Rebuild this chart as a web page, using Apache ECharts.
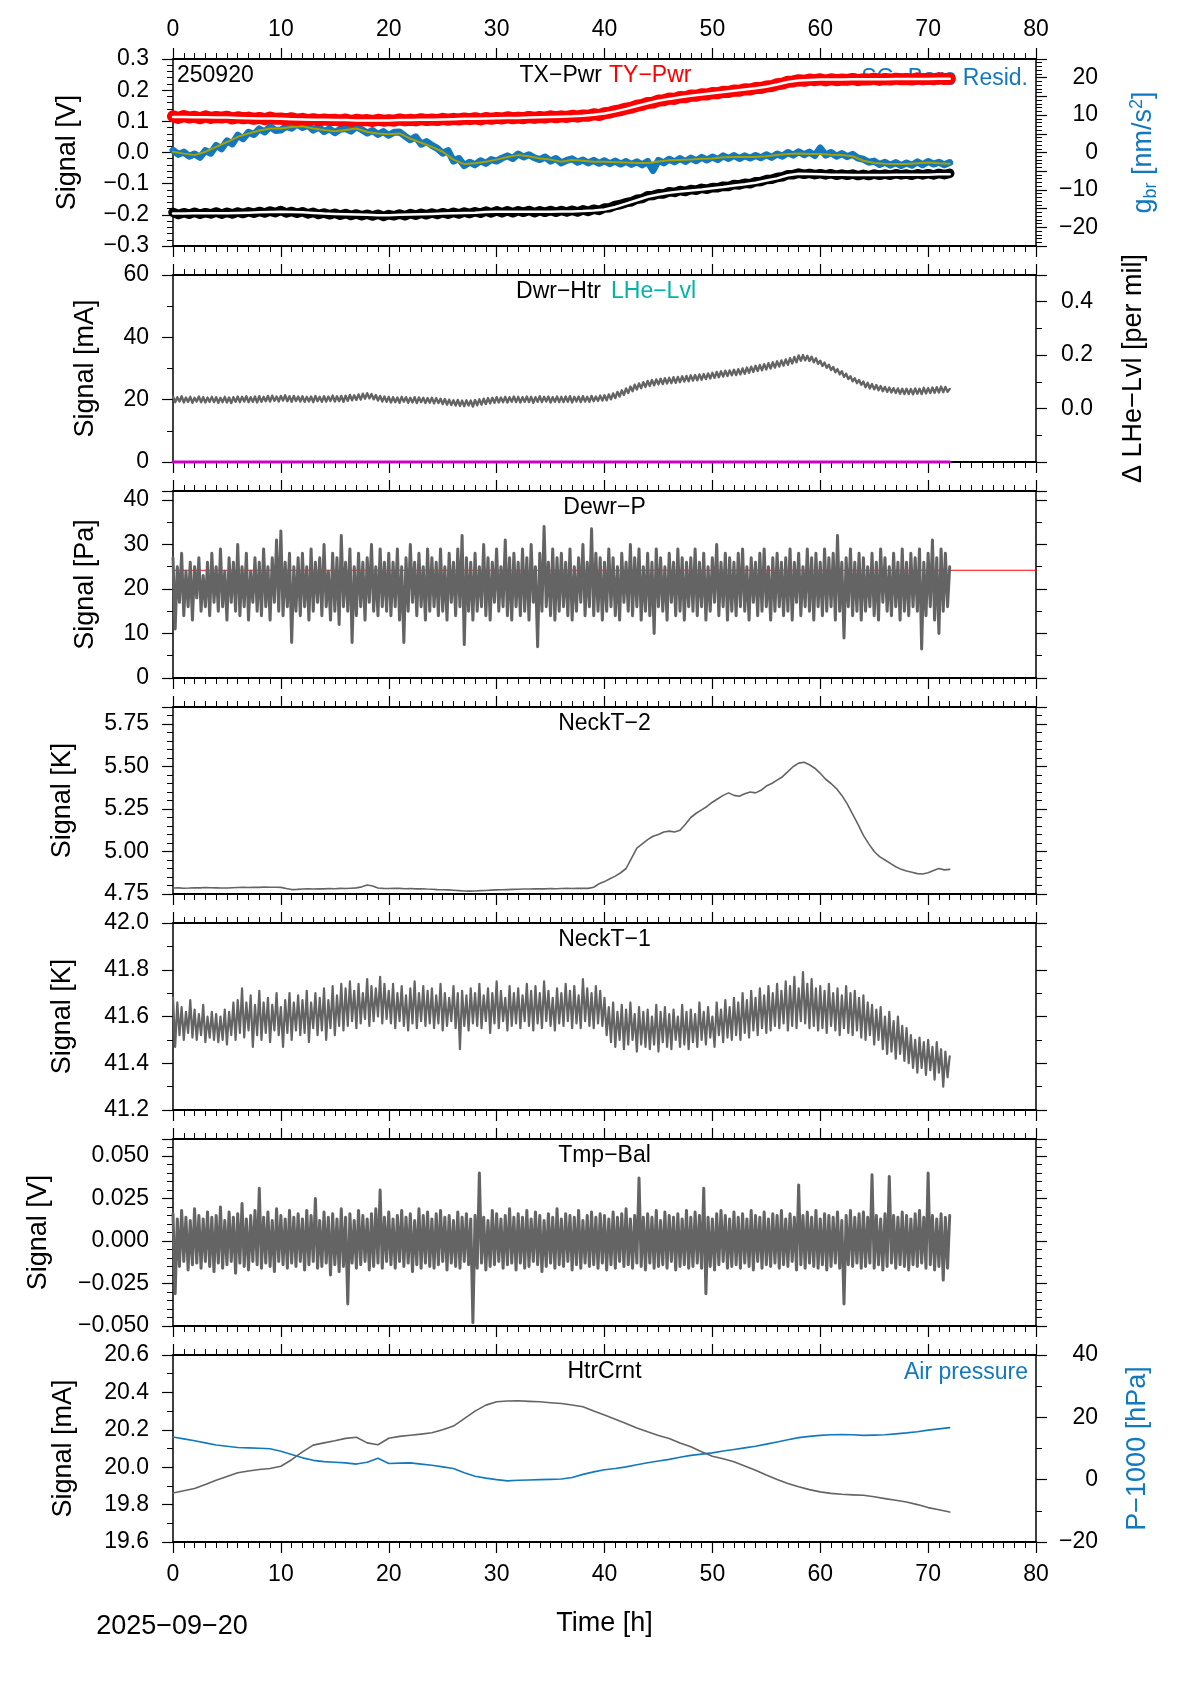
<!DOCTYPE html>
<html><head><meta charset="utf-8">
<script src="https://cdn.jsdelivr.net/npm/echarts@6/dist/echarts.min.js"></script>
<style>html,body{margin:0;padding:0;background:#fff}#c{width:1190px;height:1684px}</style>
</head><body><div id="c"></div>
<script>
// ---------------- DATA (time in hours) ----------------
const xTickLabels = [0,10,20,30,40,50,60,70,80];

// Panel 1 : TX-Pwr / TY-Pwr [V], SG-Baro residual [nm/s^2]  (raw every 0.5 h, smoothed every 1 h)
const tyRaw = [.116,.111,.117,.112,.115,
 .110,.116,.111,.114, .112,.115,.109,.113, .110,.112,.108,.111, .107,.112,.108,.109,
 .106,.110,.105,.108, .104,.107,.103,.106, .104,.105,.102,.106, .101,.105,.103,.104,
 .101,.105,.102,.104, .102,.106,.103,.105, .103,.107,.104,.106, .104,.108,.105,.108,
 .106,.109,.107,.110, .106,.111,.108,.111, .109,.113,.110,.112, .110,.114,.111,.114,
 .112,.116,.113,.116, .114,.118,.115,.119, .118,.123,.120,.126, .128,.133,.136,.141,
 .144,.150,.153,.159, .160,.167,.168,.173, .172,.178,.177,.183, .182,.187,.186,.191,
 .190,.195,.194,.199, .198,.203,.202,.207, .207,.212,.213,.219, .221,.227,.228,.232,
 .230,.234,.232,.235, .231,.235,.232,.234, .233,.236,.232,.235, .234,.237,.233,.236,
 .234,.237,.235,.236, .234,.238,.235,.237, .235,.238,.236,.237];
const tySmooth = [.114,.114,.113,.113,.112,.112,.111,.110,.109,.109,
 .108,.107,.106,.105,.105,.104,.104,.103,.103,.103,
 .103,.104,.104,.105,.105,.106,.107,.108,.108,.109,
 .110,.111,.111,.112,.113,.114,.115,.116,.118,.121,
 .125,.132,.140,.149,.158,.166,.172,.177,.182,.186,
 .190,.194,.198,.202,.206,.211,.218,.226,.231,.233,
 .234,.234,.234,.235,.235,.235,.235,.236,.236,.236,
 .236,.237,.237];
const txRaw = [-.192,-.199,-.193,-.198,-.192,
 -.198,-.193,-.197,-.191, -.198,-.192,-.197,-.191, -.196,-.190,-.195,-.189, -.194,-.188,-.193,-.186,
 -.194,-.189,-.195,-.190, -.197,-.192,-.199,-.194, -.200,-.195,-.201,-.196, -.202,-.197,-.203,-.198,
 -.204,-.198,-.205,-.199, -.203,-.197,-.203,-.196, -.201,-.195,-.200,-.194, -.199,-.193,-.198,-.192,
 -.197,-.191,-.196,-.190, -.195,-.188,-.194,-.187, -.193,-.187,-.193,-.187, -.192,-.186,-.193,-.187,
 -.192,-.186,-.192,-.186, -.191,-.185,-.191,-.184, -.189,-.182,-.186,-.178, -.177,-.170,-.167,-.161,
 -.158,-.150,-.148,-.139, -.138,-.132,-.133,-.126, -.128,-.122,-.125,-.119, -.121,-.115,-.118,-.112,
 -.113,-.108,-.109,-.103, -.104,-.099,-.100,-.094, -.093,-.087,-.086,-.080, -.078,-.071,-.071,-.066,
 -.070,-.067,-.071,-.068, -.072,-.068,-.073,-.069, -.073,-.069,-.074,-.070, -.074,-.069,-.073,-.069,
 -.073,-.068,-.072,-.069, -.073,-.068,-.072,-.068, -.072,-.067,-.071,-.067];
const txSmooth = [-.196,-.196,-.195,-.195,-.195,-.195,-.194,-.193,-.192,-.191,
 -.190,-.191,-.192,-.194,-.196,-.197,-.198,-.199,-.200,-.201,
 -.201,-.200,-.199,-.198,-.197,-.196,-.195,-.194,-.193,-.191,
 -.190,-.190,-.190,-.190,-.190,-.190,-.189,-.189,-.188,-.186,
 -.183,-.175,-.164,-.153,-.142,-.135,-.129,-.125,-.122,-.119,
 -.115,-.111,-.106,-.102,-.097,-.090,-.083,-.073,-.068,-.069,
 -.070,-.071,-.071,-.072,-.072,-.072,-.072,-.071,-.071,-.071,
 -.071,-.070,-.070];
const gbrRaw = [0.6,-0.5,0.1,-1.0,-0.4,
 -1.3,0.5,-0.2,1.9, 1.0,3.1,2.3,4.6, 3.7,5.4,4.8,6.3, 5.5,6.9,5.9,6.0,
 7.0,6.5,7.6,6.7, 7.3,6.0,6.8,5.6, 6.3,5.3,6.2,6.4, 5.7,6.9,6.1,5.2,
 5.9,4.8,5.6,4.6, 5.4,5.5,4.4,3.4, 4.2,2.2,2.9,1.9, 1.1,-0.2,0.5,-2.3,
 -1.6,-3.5,-2.6,-3.3, -2.2,-2.9,-1.9,-2.3, -1.5,-0.9,-1.6,-0.4, -1.2,-0.6,-1.4,-1.9,
 -1.2,-2.3,-1.6,-2.8, -2.1,-1.7,-2.6,-2.0, -2.8,-2.1,-2.9,-2.2, -3.0,-2.3,-3.1,-2.4,
 -3.2,-2.5,-3.3,-2.4, -4.8,-2.1,-2.8,-1.8, -2.5,-1.6,-2.4,-1.5, -2.2,-1.3,-2.0,-1.2,
 -1.9,-0.9,-1.6,-0.8, -1.6,-0.9,-1.5,-0.8, -1.4,-0.6,-1.3,-0.4, -1.0,0.0,-0.7,0.2,
 -0.6,0.1,-0.8,1.2, -0.7,0.0,-1.0,-0.3, -1.1,-0.5,-1.5,-1.8, -2.6,-2.3,-3.2,-2.6,
 -3.4,-2.7,-3.5,-2.8, -3.4,-2.5,-3.3,-2.4, -3.1,-2.6,-3.3,-2.7];
const gbrSmooth = [0.2,-0.3,-0.7,0.2,1.5,2.8,4.2,5.1,5.9,6.4,
 6.4,6.8,7.0,6.4,6.0,5.7,6.0,6.4,5.5,5.1,
 4.9,5.1,3.7,2.6,1.5,0.2,-1.9,-3.1,-2.9,-2.5,
 -1.9,-1.2,-0.7,-1.0,-1.6,-1.9,-2.5,-2.0,-2.2,-2.5,
 -2.5,-2.6,-2.7,-2.8,-2.8,-2.4,-2.1,-2.0,-1.9,-1.7,
 -1.6,-1.3,-1.2,-1.2,-1.2,-1.0,-0.7,-0.4,-0.3,-0.4,
 -0.4,-0.6,-0.7,-1.0,-2.2,-2.8,-3.0,-3.1,-3.1,-2.9,
 -2.7,-2.9,-3.0];

// Panel 2 : Dwr-Htr [mA] (every 0.2 h) and LHe-Lvl trace
const dwrHtr = [
 21.0,19.2,20.8,19.4,21.1,19.1,20.7,19.3,20.9,19.0,20.6,19.4,21.0,19.2,20.8,19.1,20.7,19.3,20.9,19.2,
 20.8,19.0,20.6,19.2,20.9,19.1,20.7,18.9,20.8,19.3,21.0,19.2,20.9,19.4,21.1,19.2,20.8,19.3,21.0,19.1,
 21.1,19.3,20.9,19.5,21.2,19.4,21.3,19.6,21.0,19.4,21.2,19.7,21.4,19.5,21.1,19.3,21.2,19.6,21.0,19.4,
 21.1,19.3,20.9,19.4,21.0,19.2,21.2,19.5,20.9,19.3,21.1,19.4,21.0,19.6,21.3,19.4,21.1,19.5,21.2,19.3,
 21.3,19.6,21.5,19.8,21.4,19.9,21.7,20.0,21.9,20.3,22.1,20.4,21.8,20.1,21.5,19.7,21.2,19.4,21.0,19.3,
 20.9,19.1,20.8,19.2,20.7,19.0,20.9,19.3,20.8,19.0,20.6,19.1,20.8,18.9,20.7,19.2,20.6,18.9,20.5,19.0,
 20.6,18.8,20.5,18.9,20.3,18.6,20.2,18.4,20.0,18.3,19.8,18.1,19.9,18.0,19.7,17.9,19.8,18.1,19.7,17.8,
 19.9,18.2,20.1,18.4,20.3,18.6,20.5,18.8,20.6,19.0,20.8,19.1,20.7,19.2,20.9,19.1,20.8,19.3,21.0,19.2,
 20.9,19.1,20.8,19.3,21.0,19.2,20.9,19.0,20.8,19.3,21.1,19.2,20.9,19.4,21.0,19.1,20.8,19.3,21.0,19.2,
 20.9,19.2,21.0,19.3,21.1,19.1,20.9,19.4,21.0,19.2,21.1,19.4,20.9,19.3,21.2,19.5,21.0,19.6,21.3,19.7,
 21.4,19.8,21.7,20.1,22.0,20.5,22.5,21.0,23.0,21.5,23.6,22.1,24.2,22.7,24.8,23.3,25.2,23.7,25.6,24.1,
 26.0,24.4,26.3,24.6,26.5,24.9,26.7,25.0,26.9,25.2,27.0,25.3,27.2,25.4,27.3,25.6,27.5,25.8,27.6,25.9,
 27.8,26.1,27.9,26.2,28.1,26.4,28.2,26.6,28.4,26.8,28.6,27.0,28.9,27.2,29.1,27.4,29.3,27.6,29.4,27.8,
 29.6,27.9,29.8,28.1,30.0,28.3,30.3,28.6,30.6,28.9,30.9,29.2,31.1,29.4,31.4,29.7,31.7,30.0,32.0,30.3,
 32.3,30.6,32.6,30.9,32.9,31.2,33.3,31.6,33.7,32.0,34.2,32.5,34.3,32.6,34.1,32.4,33.8,32.0,33.3,31.5,
 32.5,30.8,31.9,30.2,31.2,29.5,30.5,28.8,29.8,28.1,29.1,27.3,28.3,26.6,27.5,25.9,26.9,25.3,26.3,24.8,
 25.8,24.0,25.4,23.6,25.0,23.3,24.7,23.0,24.4,22.7,24.1,22.5,23.9,22.3,23.7,22.1,23.6,21.9,23.5,21.8,
 23.5,21.8,23.4,21.7,23.6,21.9,23.5,21.8,23.8,22.0,23.7,22.1,23.9,22.2,24.0,22.3,24.2,22.4,24.1,22.5,
 23.4];
const lheLvlT = [0, 72];
const lheLvl = [0, 0];

// Panel 3 : Dewr-P [Pa] (every 0.2 h) and reference level
const dewrP = [
 27,11,25,17,28,14,24,16,26,13,25,18,27,15,23,16,26,14,28,17,
 25,15,29,16,24,13,27,17,26,15,30,14,25,16,28,13,24,17,27,15,
 26,14,29,16,25,13,27,17,31,15,33,14,26,16,28,8,25,15,27,14,
 28,16,25,13,29,15,26,17,27,14,30,16,24,13,28,15,27,12,32,16,
 26,15,29,8,25,14,28,16,26,13,27,17,30,15,25,14,29,16,26,15,
 28,14,26,16,29,13,25,8,27,15,30,17,26,14,28,16,25,13,29,15,
 27,16,26,14,29,15,25,13,28,17,26,14,29,16,32,7.5,27,15,26,13,
 28,15,25,16,30,14,27,13,26,17,29,15,25,16,31,14,27,13,28,16,
 26,14,29,15,27,13,30,17,25,7,28,15,34,16,26,14,29,13,27,15,
 28,16,26,14,29,13,25,15,27,17,30,14,26,16,33.5,14,28,15,27,13,
 26,15,29,16,27,14,25,13,28,17,26,15,30,14,27,16,29,13,25,15,
 28,14,26,10,29,16,27,15,25,13,28,17,26,14,29,15,27,13,26,16,
 27,15,29,14,26,16,28,13,25,15,27,17,30,14,26,16,28,13,27,15,
 26,14,28,16,29,15,25,13,27,17,26,14,28,15,29,16,25,13,27,15,
 28,16,26,14,27,15,29,13,26,17,28,14,25,16,29,15,27,13,28,16,
 26,14,29,15,27,16,28,13,32,15,26,9,27,16,29,14,26,15,28,13,
 27,15,25,16,28,14,26,13,29,17,27,15,25,14,28,16,26,13,29,15,
 26,14,28,16,27,15,29,6.5,26,14,28,16,31,13,27,10,29,15,28,16,
 25];
const dewrRefT = [0, 80];
const dewrRef = [24.2, 24.2];

// Panel 4 : NeckT-2 [K] (every 0.5 h)
const neckT2 = [4.785,4.786,4.784,4.785,4.787,
 4.786,4.788,4.787,4.786, 4.785,4.785,4.787,4.788, 4.789,4.788,4.790,4.789, 4.791,4.790,4.790,4.789,
 4.782,4.776,4.777,4.779, 4.780,4.779,4.781,4.780, 4.782,4.781,4.783,4.782, 4.784,4.786,4.792,4.803,
 4.797,4.785,4.783,4.782, 4.784,4.783,4.781,4.782, 4.780,4.781,4.779,4.778, 4.776,4.775,4.774,4.772,
 4.770,4.768,4.767,4.768, 4.770,4.771,4.773,4.774, 4.775,4.776,4.777,4.778, 4.779,4.779,4.780,4.781,
 4.780,4.782,4.781,4.782, 4.783,4.782,4.783,4.784, 4.783,4.790,4.810,4.823, 4.840,4.855,4.875,4.900,
 4.960,5.020,5.045,5.070, 5.090,5.100,5.115,5.120, 5.115,5.125,5.160,5.200, 5.225,5.245,5.265,5.290,
 5.310,5.330,5.345,5.330, 5.325,5.340,5.350,5.345, 5.360,5.385,5.400,5.420, 5.440,5.470,5.500,5.520,
 5.525,5.510,5.490,5.460, 5.425,5.400,5.370,5.330, 5.280,5.220,5.160,5.095, 5.045,5.000,4.970,4.950,
 4.930,4.910,4.895,4.885, 4.878,4.870,4.868,4.875, 4.888,4.900,4.892,4.895];

// Panel 5 : NeckT-1 [K] (every 0.2 h)
const neckT1 = [
 41.68,41.47,41.66,41.52,41.64,41.5,41.62,41.53,41.67,41.51,41.63,41.5,41.61,41.52,41.65,41.49,41.6,41.51,41.62,41.5,
 41.61,41.49,41.6,41.5,41.63,41.48,41.62,41.52,41.66,41.5,41.67,41.53,41.72,41.51,41.66,41.54,41.69,41.47,41.65,41.52,
 41.71,41.5,41.66,41.53,41.68,41.49,41.65,41.54,41.7,41.52,41.64,41.47,41.67,41.53,41.7,41.5,41.66,41.54,41.69,41.52,
 41.67,41.53,41.71,41.49,41.66,41.55,41.7,41.52,41.68,41.54,41.72,41.5,41.67,41.55,41.73,41.52,41.69,41.56,41.74,41.54,
 41.72,41.56,41.75,41.58,41.71,41.55,41.74,41.57,41.7,41.59,41.76,41.56,41.73,41.58,41.72,41.6,41.77,41.57,41.74,41.59,
 41.71,41.57,41.74,41.55,41.7,41.58,41.73,41.56,41.69,41.54,41.72,41.57,41.75,41.55,41.7,41.58,41.73,41.56,41.71,41.57,
 41.72,41.55,41.69,41.57,41.74,41.54,41.7,41.56,41.68,41.58,41.73,41.55,41.7,41.46,41.71,41.56,41.69,41.54,41.72,41.57,
 41.7,41.56,41.74,41.55,41.69,41.58,41.72,41.53,41.7,41.57,41.75,41.55,41.71,41.58,41.68,41.54,41.73,41.56,41.7,41.57,
 41.72,41.55,41.69,41.58,41.74,41.56,41.71,41.54,41.73,41.57,41.7,41.55,41.75,41.58,41.71,41.56,41.68,41.54,41.72,41.57,
 41.7,41.56,41.74,41.58,41.71,41.55,41.73,41.57,41.69,41.55,41.76,41.58,41.72,41.56,41.7,41.55,41.73,41.57,41.71,41.56,
 41.68,41.52,41.64,41.49,41.66,41.47,41.62,41.5,41.65,41.46,41.63,41.48,41.66,41.5,41.61,41.45,41.64,41.48,41.62,41.47,
 41.63,41.46,41.6,41.48,41.65,41.45,41.62,41.49,41.64,41.47,41.61,41.46,41.63,41.5,41.6,41.47,41.65,41.48,41.62,41.46,
 41.63,41.49,41.61,41.47,41.66,41.5,41.62,41.48,41.64,41.51,41.6,41.47,41.66,41.52,41.63,41.49,41.67,41.51,41.64,41.5,
 41.68,41.52,41.66,41.5,41.7,41.53,41.67,41.51,41.71,41.54,41.68,41.52,41.72,41.55,41.69,41.53,41.73,41.54,41.7,41.56,
 41.74,41.55,41.71,41.57,41.75,41.54,41.73,41.56,41.77,41.55,41.72,41.58,41.79,41.57,41.74,41.55,41.76,41.56,41.72,41.54,
 41.73,41.55,41.71,41.53,41.74,41.56,41.7,41.54,41.72,41.52,41.69,41.55,41.73,41.53,41.7,41.52,41.71,41.54,41.68,41.51,
 41.69,41.5,41.66,41.52,41.65,41.48,41.63,41.5,41.64,41.46,41.6,41.44,41.62,41.45,41.58,41.42,41.6,41.44,41.56,41.41,
 41.55,41.4,41.52,41.38,41.5,41.36,41.51,41.38,41.49,41.35,41.5,41.37,41.47,41.33,41.49,41.36,41.46,41.3,41.45,41.34,
 41.43];

// Panel 6 : Tmp-Bal [V] (every 0.2 h)
const tmpBal = [
 .016,-.031,.013,-.015,.018,-.012,.014,-.017,.012,-.014,.019,-.013,.015,-.016,.013,-.012,.017,-.015,.014,-.018,
 .015,-.013,.020,-.016,.012,-.014,.017,-.012,.014,-.019,.016,-.013,.022,-.015,.013,-.017,.015,-.012,.018,-.014,
 .031,-.016,.014,-.013,.017,-.015,.012,-.018,.019,-.012,.015,-.014,.013,-.016,.018,-.013,.014,-.015,.016,-.012,
 .013,-.017,.018,-.014,.015,-.012,.025,-.016,.012,-.015,.017,-.013,.014,-.020,.016,-.014,.013,-.018,.019,-.015,
 .014,-.037,.016,-.013,.012,-.016,.018,-.014,.015,-.012,.013,-.017,.016,-.015,.019,-.013,.030,-.016,.014,-.012,
 .017,-.014,.013,-.016,.015,-.012,.018,-.015,.014,-.013,.016,-.018,.012,-.014,.019,-.016,.015,-.013,.017,-.015,
 .013,-.016,.016,-.014,.018,-.012,.014,-.017,.015,-.013,.012,-.015,.017,-.016,.014,-.012,.016,-.014,.013,-.048,
 .015,-.016,.040,-.013,.014,-.017,.012,-.015,.018,-.014,.016,-.012,.013,-.016,.015,-.014,.019,-.013,.014,-.017,
 .016,-.013,.014,-.016,.018,-.015,.013,-.012,.017,-.014,.015,-.018,.012,-.015,.016,-.013,.014,-.016,.019,-.014,
 .013,-.015,.016,-.012,.015,-.017,.014,-.014,.018,-.016,.012,-.013,.015,-.015,.017,-.014,.014,-.016,.016,-.013,
 .015,-.017,.013,-.014,.017,-.016,.014,-.012,.016,-.015,.019,-.014,.013,-.016,.015,-.013,.037,-.015,.014,-.017,
 .016,-.013,.014,-.016,.018,-.015,.012,-.014,.017,-.016,.015,-.012,.014,-.017,.016,-.015,.013,-.014,.018,-.016,
 .014,-.015,.017,-.013,.015,-.016,.031,-.031,.014,-.015,.013,-.017,.016,-.014,.018,-.012,.015,-.016,.013,-.015,
 .017,-.014,.014,-.016,.016,-.013,.013,-.015,.018,-.017,.015,-.012,.014,-.016,.017,-.014,.013,-.015,.016,-.013,
 .015,-.016,.018,-.014,.013,-.015,.016,-.012,.014,-.017,.033,-.014,.015,-.016,.017,-.013,.014,-.015,.018,-.016,
 .013,-.014,.016,-.017,.015,-.015,.014,-.013,.017,-.016,.012,-.037,.015,-.014,.018,-.015,.014,-.013,.016,-.016,
 .017,-.015,.014,-.013,.039,-.016,.015,-.014,.013,-.017,.016,-.015,.038,-.013,.015,-.016,.014,-.014,.017,-.015,
 .015,-.017,.013,-.014,.016,-.015,.018,-.013,.014,-.016,.040,-.014,.015,-.017,.013,-.015,.016,-.023,.014,-.016,
 .015];

// Panel 7 : HtrCrnt [mA] and air pressure P-1000 [hPa] (every 1 h)
const htrCrnt = [19.862,19.874,19.886,19.908,19.93,19.95,19.97,19.98,19.988,19.993,
 20.005,20.04,20.082,20.118,20.13,20.141,20.154,20.16,20.13,20.12,
 20.155,20.165,20.171,20.177,20.184,20.2,20.22,20.26,20.3,20.332,
 20.35,20.354,20.355,20.352,20.35,20.345,20.341,20.333,20.323,20.3,
 20.279,20.256,20.234,20.21,20.189,20.17,20.154,20.13,20.109,20.083,
 20.059,20.045,20.029,20.006,19.984,19.958,19.934,19.913,19.895,19.88,
 19.868,19.86,19.855,19.852,19.85,19.842,19.832,19.823,19.814,19.8,
 19.784,19.772,19.76];
const airP = [13.7,13.1,12.5,11.8,11.1,10.7,10.3,10.2,10.1,9.9,
 9.1,8.1,7.0,6.2,5.8,5.6,5.4,5.0,5.6,6.9,
 5.2,5.3,5.4,5.0,4.6,4.1,3.6,2.2,1.1,0.5,
 0.0,-0.4,-0.2,-0.1,0.0,0.1,0.2,0.7,1.7,2.5,
 3.2,3.6,4.1,4.8,5.4,6.0,6.5,7.2,7.8,8.2,
 8.6,9.2,9.7,10.2,10.7,11.4,12.1,12.8,13.5,13.9,
 14.2,14.4,14.5,14.4,14.2,14.3,14.4,14.7,15.0,15.4,
 15.9,16.3,16.7];

// ---------------- CHART ----------------
const FONT = '"Liberation Sans", Arial, Helvetica, sans-serif';
const BLUE = '#1279be', RED = '#ff0000', GRAY = '#646464', OLIVE = '#a89f00', TEAL = '#00b4a8', MAG = '#cc00cc';
const MINUS = '\u2212';
const TOPS = [59, 275, 491, 707, 923, 1139, 1355], H = 187, L = 173, R = 154;

function onGrid(arr, dt) { return arr.map((v, i) => [Math.round(i * dt * 1000) / 1000, v]); }
function zip(t, v) { return t.map((x, i) => [x, v[i]]); }
function fmt(dec, every, hideNeg) {
  return function (v) {
    if (Math.abs(v) < 1e-9) v = 0;
    const k = v / every;
    if (Math.abs(k - Math.round(k)) > 1e-6) return '';
    if (hideNeg && v < 0) return '';
    return v.toFixed(dec).replace('-', MINUS);
  };
}
const tickStyle = { color: '#000', width: 1.2 };

function xAx(gi, pos, showLabel, name) {
  const a = {
    type: 'value', gridIndex: gi, position: pos, min: 0, max: 80, interval: 10,
    axisLine: { show: true, onZero: false, lineStyle: { color: '#000', width: 2 } },
    axisTick: { show: true, inside: false, length: 11, lineStyle: tickStyle },
    minorTick: { show: true, splitNumber: 10, length: 6, lineStyle: { color: '#000', width: 1 } },
    splitLine: { show: false }, minorSplitLine: { show: false },
    axisLabel: { show: showLabel, fontSize: 23, fontFamily: FONT, color: '#000',
      margin: pos === 'top' ? 18 : 21,
      formatter: v => (xTickLabels.indexOf(v) >= 0 ? String(v) : '') }
  };
  if (name) {
    a.name = name; a.nameLocation = 'middle'; a.nameGap = 68;
    a.nameTextStyle = { fontSize: 27, fontFamily: FONT, color: '#000' };
  }
  return a;
}
function yAx(gi, pos, c) {
  const a = {
    type: 'value', gridIndex: gi, position: pos, min: c.min, max: c.max, interval: c.interval,
    axisLine: { show: true, onZero: false, lineStyle: { color: '#000', width: 1.5 } },
    axisTick: { show: true, inside: false, length: 11, lineStyle: tickStyle },
    minorTick: { show: true, splitNumber: c.minor, length: 6, lineStyle: { color: '#000', width: 1 } },
    splitLine: { show: false }, minorSplitLine: { show: false },
    axisLabel: { show: !!c.fmt, formatter: c.fmt, fontSize: 23, fontFamily: FONT, color: '#000',
      margin: c.margin || 24, align: c.align }
  };
  if (c.name) {
    a.name = c.name; a.nameLocation = 'middle'; a.nameGap = c.gap; a.nameRotate = 90;
    a.nameTextStyle = Object.assign({ fontSize: 27, fontFamily: FONT, color: c.nameColor || '#000' }, c.nameExtra || {});
  }
  return a;
}

const leftCfg = [
  { min: -0.3, max: 0.3, interval: 0.1, minor: 5, fmt: fmt(1, 0.1), name: 'Signal [V]', gap: 92 },
  { min: 0, max: 60, interval: 20, minor: 2, fmt: fmt(0, 20), name: 'Signal [mA]', gap: 74 },
  { min: 0, max: 42, interval: 10, minor: 2, fmt: fmt(0, 10), name: 'Signal [Pa]', gap: 74 },
  { min: 4.75, max: 5.85, interval: 0.25, minor: 5, fmt: fmt(2, 0.25), name: 'Signal [K]', gap: 97 },
  { min: 41.2, max: 42.0, interval: 0.2, minor: 2, fmt: fmt(1, 0.2), name: 'Signal [K]', gap: 97 },
  { min: -0.05, max: 0.06, interval: 0.025, minor: 5, fmt: fmt(3, 0.025), name: 'Signal [V]', gap: 121 },
  { min: 19.6, max: 20.6, interval: 0.2, minor: 2, fmt: fmt(1, 0.2), name: 'Signal [mA]', gap: 96 }
];
const rightCfg = [
  { min: -25, max: 25, interval: 5, minor: 5, fmt: fmt(0, 10), align: 'right', margin: 62,
    name: '{a|g}{b|br}{a| [nm/s}{c|2}{a|]}', gap: 92, nameColor: BLUE,
    nameExtra: { rich: {
      a: { fontSize: 27, fontFamily: FONT, color: BLUE },
      b: { fontSize: 18, fontFamily: FONT, color: BLUE, padding: [14, 0, 0, 0] },
      c: { fontSize: 18, fontFamily: FONT, color: BLUE, padding: [0, 0, 14, 0] } } } },
  { min: -0.2, max: 0.5, interval: 0.2, minor: 2, fmt: fmt(1, 0.2, true), margin: 25,
    name: '\u0394 LHe' + MINUS + 'Lvl [per mil]', gap: 84 },
  Object.assign({}, leftCfg[2], { fmt: null, name: null }),
  Object.assign({}, leftCfg[3], { fmt: null, name: null }),
  Object.assign({}, leftCfg[4], { fmt: null, name: null }),
  Object.assign({}, leftCfg[5], { fmt: null, name: null }),
  { min: -20, max: 40, interval: 20, minor: 2, fmt: fmt(0, 20), align: 'right', margin: 62,
    name: 'P' + MINUS + '1000 [hPa]', gap: 88, nameColor: BLUE }
];

const grids = TOPS.map(t => ({ left: L, right: R, top: t, height: H, containLabel: false, outerBoundsMode: 'none' }));
const xAxes = [], yAxes = [];
TOPS.forEach((t, i) => {
  xAxes.push(xAx(i, 'bottom', i === 6, i === 6 ? 'Time [h]' : null));
  xAxes.push(xAx(i, 'top', i === 0, null));
  yAxes.push(yAx(i, 'left', leftCfg[i]));
  yAxes.push(yAx(i, 'right', rightCfg[i]));
});

function line(gi, right, data, color, width, extra) {
  return Object.assign({
    type: 'line', xAxisIndex: 2 * gi, yAxisIndex: 2 * gi + (right ? 1 : 0), data,
    showSymbol: false, symbol: 'none', silent: true, animation: false, sampling: null,
    lineStyle: { color, width, join: 'round', cap: 'round' }, z: 2
  }, extra || {});
}
const series = [
  line(0, true, onGrid(gbrRaw, 0.5), BLUE, 7),
  line(0, true, onGrid(gbrSmooth, 1), OLIVE, 2),
  line(0, false, onGrid(txRaw, 0.5), '#000', 9.5),
  line(0, false, onGrid(txSmooth, 1), '#fff', 2.5),
  line(0, false, onGrid(tyRaw, 0.5), RED, 12),
  line(0, false, onGrid(tySmooth, 1), '#fff', 2.5),
  line(1, false, onGrid(dwrHtr, 0.2), GRAY, 2.4),
  line(1, false, zip(lheLvlT, lheLvl), MAG, 3, { clip: false, z: 3 }),
  line(2, false, zip(dewrRefT, dewrRef), RED, 1.2),
  line(2, false, onGrid(dewrP, 0.2), GRAY, 3),
  line(3, false, onGrid(neckT2, 0.5), GRAY, 1.6),
  line(4, false, onGrid(neckT1, 0.2), GRAY, 2.2),
  line(5, false, onGrid(tmpBal, 0.2), GRAY, 3),
  line(6, false, onGrid(htrCrnt, 1), GRAY, 1.6),
  line(6, true, onGrid(airP, 1), BLUE, 1.6)
];

function gtext(text, x, y, color, align, size) {
  return { type: 'text', x, y, z: 0, silent: true,
    style: { text, fill: color, fontSize: size || 23, fontFamily: FONT, align, verticalAlign: 'middle' } };
}
const CX = L + (1190 - L - R) / 2;
const graphics = [
  gtext('250920', 177, 76, '#000', 'left'),
  gtext('TX' + MINUS + 'Pwr', 602, 76, '#000', 'right'),
  gtext('TY' + MINUS + 'Pwr', 609, 76, RED, 'left'),
  gtext('SG' + MINUS + 'Baro Resid.', 1028, 79, BLUE, 'right'),
  gtext('Dwr' + MINUS + 'Htr', 601, 292, '#000', 'right'),
  gtext('LHe' + MINUS + 'Lvl', 611, 292, TEAL, 'left'),
  gtext('Dewr' + MINUS + 'P', CX, 508, '#000', 'center'),
  gtext('NeckT' + MINUS + '2', CX, 724, '#000', 'center'),
  gtext('NeckT' + MINUS + '1', CX, 940, '#000', 'center'),
  gtext('Tmp' + MINUS + 'Bal', CX, 1156, '#000', 'center'),
  gtext('HtrCrnt', CX, 1372, '#000', 'center'),
  gtext('Air pressure', 1028, 1373, BLUE, 'right'),
  gtext('2025' + MINUS + '09' + MINUS + '20', 172, 1627, '#000', 'center', 27)
];

const chart = echarts.init(document.getElementById('c'), null, { renderer: 'canvas', width: 1190, height: 1684 });
chart.setOption({
  animation: false,
  backgroundColor: '#fff',
  grid: grids, xAxis: xAxes, yAxis: yAxes, series,
  graphic: graphics
});
</script>
</body></html>
